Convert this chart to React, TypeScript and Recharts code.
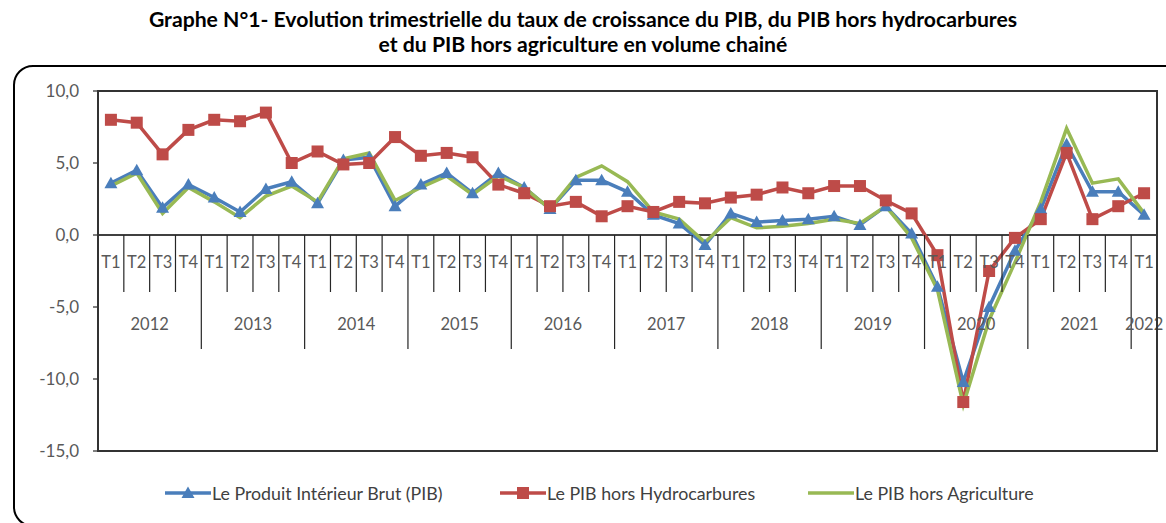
import { LineChart, Line, XAxis, YAxis, ReferenceLine } from "recharts";

const years = ["2012", "2013", "2014", "2015", "2016", "2017", "2018", "2019", "2020", "2021", "2022"];
const quarters = ["T1", "T2", "T3", "T4"];

// Le Produit Intérieur Brut (PIB)
const pib = [
  3.6, 4.5, 1.9, 3.5,
  2.6, 1.6, 3.2, 3.7,
  2.2, 5.2, 5.4, 2.0,
  3.5, 4.3, 2.9, 4.3,
  3.3, 1.8, 3.8, 3.8,
  3.0, 1.4, 0.8, -0.7,
  1.5, 0.9, 1.0, 1.1,
  1.3, 0.7, 2.0, 0.1,
  -3.6, -10.2, -5.0, -1.1,
  1.8, 6.3, 3.0, 3.0,
  1.4,
];

// Le PIB hors Hydrocarbures
const pibHorsHydro = [
  8.0, 7.8, 5.6, 7.3,
  8.0, 7.9, 8.5, 5.0,
  5.8, 4.9, 5.0, 6.8,
  5.5, 5.7, 5.4, 3.5,
  2.9, 2.0, 2.3, 1.3,
  2.0, 1.6, 2.3, 2.2,
  2.6, 2.8, 3.3, 2.9,
  3.4, 3.4, 2.4, 1.5,
  -1.4, -11.6, -2.5, -0.2,
  1.1, 5.7, 1.1, 2.0,
  2.9,
];

// Le PIB hors Agriculture
const pibHorsAgri = [
  3.4, 4.3, 1.5, 3.3,
  2.3, 1.2, 2.7, 3.4,
  2.3, 5.3, 5.7, 2.4,
  3.3, 4.1, 2.8, 4.1,
  3.3, 1.8, 4.0, 4.8,
  3.7, 1.6, 1.1, -0.5,
  1.2, 0.5, 0.6, 0.8,
  1.1, 0.8, 2.0, -0.2,
  -3.8, -11.8, -5.9, -1.9,
  2.3, 7.4, 3.6, 3.9,
  1.5,
];

const yTicks = [-15, -10, -5, 0, 5, 10];

const data = pib.map((v, i) => {
  const year = years[Math.floor(i / 4)];
  const q = quarters[i % 4];
  return { key: `${year}-${q}`, year, q, pib: v, hydro: pibHorsHydro[i], agri: pibHorsAgri[i] };
});

const W = 1166;
const H = 523;
const MARGIN = { top: 91, right: 9, bottom: 71, left: 0 };
const Y_AXIS_W = 98;
const PLOT_LEFT = MARGIN.left + Y_AXIS_W;
const PLOT_TOP = MARGIN.top;
const PLOT_W = W - MARGIN.right - MARGIN.left - Y_AXIS_W;
const PLOT_H = H - MARGIN.top - MARGIN.bottom - 1;
const BAND = PLOT_W / data.length;
const ZERO_Y = PLOT_TOP + (PLOT_H * 10) / 25;

const FONT = "Lato, 'Open Sans', sans-serif";
const BLUE = "#4a7ebb";
const RED = "#be4b48";
const GREEN = "#98b954";

const fmt = (v: number) => v.toFixed(1).replace(".", ",");

const CategoryTick = ({ x, payload }: any) => {
  const idx = data.findIndex((d) => d.key === payload.value);
  if (idx < 0) return null;
  const row = data[idx];
  const isLast = idx === data.length - 1;
  const yearEnds = isLast || data[idx + 1].year !== row.year;
  const firstOfYear = data.findIndex((d) => d.year === row.year);
  const count = data.filter((d) => d.year === row.year).length;
  const right = x + BAND / 2;
  return (
    <g>
      <text x={x} y={ZERO_Y + 27} textAnchor="middle" dominantBaseline="central"
        fill="#595959" fontSize={16.5} fontFamily={FONT}>
        {row.q}
      </text>
      {!isLast && (
        <line x1={right} x2={right} y1={ZERO_Y} y2={ZERO_Y + (yearEnds ? 114 : 57)}
          stroke="#262626" strokeWidth={1.2} />
      )}
      {idx === firstOfYear && (
        <text x={x + ((count - 1) * BAND) / 2} y={ZERO_Y + 89} textAnchor="middle" dominantBaseline="central"
          fill="#595959" fontSize={16.5} fontFamily={FONT}>
          {row.year}
        </text>
      )}
    </g>
  );
};

const Triangle = ({ cx, cy, fill }: any) => (
  <polygon points={`${cx},${cy - 6.5} ${cx - 6.5},${cy + 5} ${cx + 6.5},${cy + 5}`} fill={fill} />
);

const Square = ({ cx, cy, fill }: any) => <rect x={cx - 6} y={cy - 6} width={12} height={12} fill={fill} />;

const legendItems = [
  { label: "Le Produit Intérieur Brut (PIB)", color: BLUE, marker: "triangle", left: 165 },
  { label: "Le PIB hors Hydrocarbures", color: RED, marker: "square", left: 500 },
  { label: "Le PIB hors Agriculture", color: GREEN, marker: "none", left: 808 },
];

export default function App() {
  return (
    <div style={{ position: "absolute", left: 0, top: 0, width: W, height: H, background: "#fff", overflow: "hidden", fontFamily: FONT }}>
      <div style={{ position: "absolute", left: 0, top: 7, width: W, textAlign: "center", fontWeight: 700, fontSize: 21.2, lineHeight: "25px", color: "#000" }}>
        <div>Graphe N°1- Evolution trimestrielle du taux de croissance du PIB, du PIB hors hydrocarbures</div>
        <div>et du PIB hors agriculture en volume chainé</div>
      </div>
      <div style={{ position: "absolute", left: 13, top: 65, width: 1180, height: 462, border: "2.5px solid #000", borderRadius: 20, boxSizing: "border-box" }} />
      <div style={{ position: "absolute", left: 0, top: 0 }}>
        <LineChart width={W} height={H} data={data} margin={MARGIN}>
          <XAxis dataKey="key" scale="band" height={1} interval={0} tickLine={false}
            axisLine={false} tick={<CategoryTick />} />
          <YAxis domain={[-15, 10]} ticks={yTicks} width={Y_AXIS_W} tickFormatter={fmt}
            tick={{ fill: "#595959", fontSize: 17, fontFamily: FONT }} tickSize={5} tickMargin={14}
            axisLine={{ stroke: "#000", strokeWidth: 1.5 }} tickLine={{ stroke: "#000" }} />
          <ReferenceLine y={0} stroke="#000" strokeWidth={1.5} />
          <Line dataKey="pib" stroke={BLUE} strokeWidth={3.5} isAnimationActive={false}
            dot={(p: any) => <Triangle key={`t${p.index}`} cx={p.cx} cy={p.cy} fill={BLUE} />} />
          <Line dataKey="hydro" stroke={RED} strokeWidth={3.5} isAnimationActive={false}
            dot={(p: any) => <Square key={`s${p.index}`} cx={p.cx} cy={p.cy} fill={RED} />} />
          <Line dataKey="agri" stroke={GREEN} strokeWidth={3.5} dot={false} isAnimationActive={false} />
        </LineChart>
      </div>
      {/* plot area frame on top of the chart */}
      <svg width={W} height={H} style={{ position: "absolute", left: 0, top: 0, pointerEvents: "none" }}>
        <rect x={PLOT_LEFT} y={PLOT_TOP} width={PLOT_W} height={PLOT_H} fill="none" stroke="#333" strokeWidth={2} />
      </svg>
      {legendItems.map((it) => (
        <div key={it.label} style={{ position: "absolute", left: it.left, top: 482, height: 22, display: "flex", alignItems: "center", fontSize: 17.8, color: "#404040" }}>
          <svg width={46} height={16} style={{ marginRight: 1 }}>
            <line x1={0} x2={46} y1={8} y2={8} stroke={it.color} strokeWidth={3.5} />
            {it.marker === "triangle" && <Triangle cx={23} cy={8} fill={it.color} />}
            {it.marker === "square" && <Square cx={23} cy={8} fill={it.color} />}
          </svg>
          <span>{it.label}</span>
        </div>
      ))}
    </div>
  );
}
